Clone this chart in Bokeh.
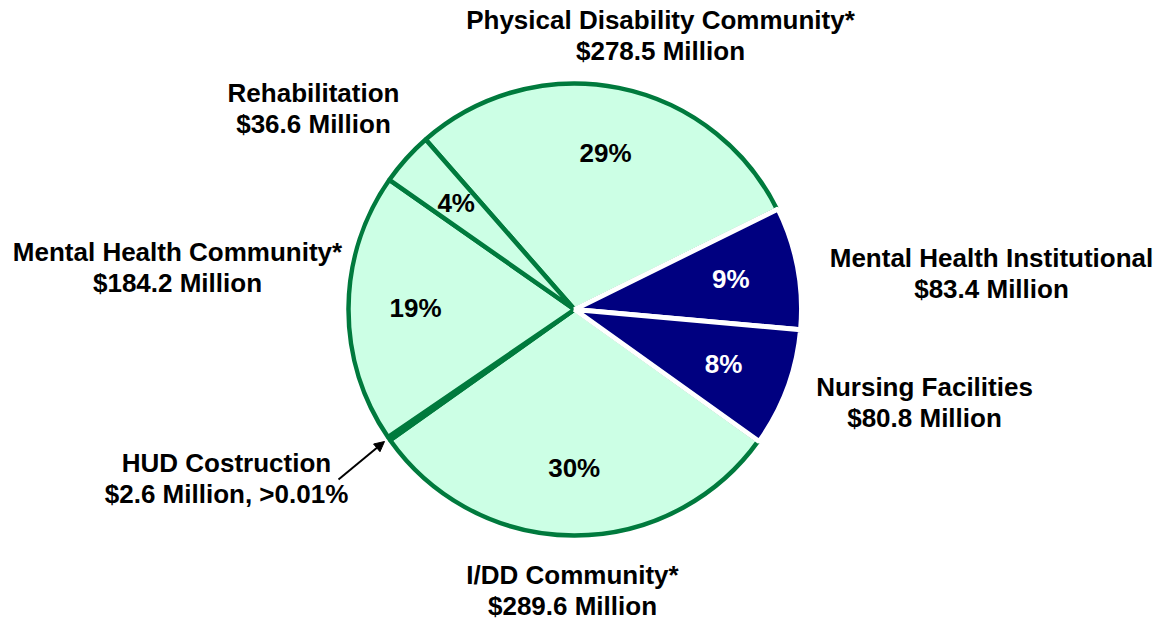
import numpy as np
from bokeh.plotting import figure
from bokeh.models import Range1d, ColumnDataSource, Arrow, NormalHead
from bokeh.core.properties import value
from bokeh.embed import file_html
from bokeh.resources import INLINE

# ---- data (clockwise order, starting with Physical Disability Community) ----
categories = ["Physical Disability Community*", "Mental Health Institutional",
              "Nursing Facilities", "I/DD Community*", "HUD Costruction",
              "Mental Health Community*", "Rehabilitation"]
amounts = [278.5, 83.4, 80.8, 289.6, 2.6, 184.2, 36.6]   # $ Million
institutional = [False, True, True, False, False, False, False]
amount_notes = ["", "", "", "", ", >0.01%", "", ""]

# ---- layout / style ----
W, H = 1167, 624
CX, CY, R = 574, H - 309, 226
A0 = 131.2                     # degrees, edge where the clockwise sweep starts
FONT = value("Liberation Sans")
FS = "26px"
MINT, GREEN, NAVY = "#CCFFE5", "#007A3D", "#000080"
TDY = 9.5                      # renderer baseline correction
# label anchors (x, baseline y of first line) in page pixels
label_pos = [(660, 29), (991, 267), (924, 396), (572, 584),
             (226, 472), (177, 261), (313, 102)]
LINE_GAP = 31

vals = np.array(amounts, dtype=float)
frac = vals / vals.sum()
cum = np.cumsum(frac)
end_ang = A0 - 360 * (cum - frac)
start_ang = A0 - 360 * cum
mid_ang = np.radians((start_ang + end_ang) / 2)

p = figure(width=W, height=H, x_range=Range1d(0, W), y_range=Range1d(0, H),
           output_backend="svg", toolbar_location=None, min_border=0)
p.axis.visible = False
p.grid.visible = False
p.outline_line_color = None
p.background_fill_color = "white"

inst = np.array(institutional)
green_src = ColumnDataSource(dict(s=start_ang[~inst], e=end_ang[~inst]))
navy_src = ColumnDataSource(dict(s=start_ang[inst], e=end_ang[inst]))

p.wedge(x=CX, y=CY, radius=R, start_angle="s", end_angle="e", start_angle_units="deg",
        end_angle_units="deg", direction="anticlock", source=green_src,
        fill_color=MINT, line_color=GREEN, line_width=4.5)
p.wedge(x=CX, y=CY, radius=R + 1, start_angle="s", end_angle="e", start_angle_units="deg",
        end_angle_units="deg", direction="anticlock", source=navy_src,
        fill_color=NAVY, line_color="white", line_width=5)

# percentage labels inside slices
RL = 159
pct = dict(x=[], y=[], t=[], c=[])
for f, m, ins in zip(frac, mid_ang, institutional):
    if f < 0.01:
        continue
    pct["x"].append(CX + RL * np.cos(m))
    pct["y"].append(CY + RL * np.sin(m) - 8.7 + TDY)
    pct["t"].append(f"{round(100 * f)}%")
    pct["c"].append("white" if ins else "black")
p.text(x="x", y="y", text="t", text_color="c", source=ColumnDataSource(pct),
       text_font=FONT, text_font_style="bold", text_font_size=FS,
       text_align="center", text_baseline="alphabetic")

# outside category labels
lab = dict(x=[], y=[], t=[])
for name, a, note, (lx, ly) in zip(categories, amounts, amount_notes, label_pos):
    lab["x"] += [lx, lx]
    lab["y"] += [H - ly + TDY, H - ly - LINE_GAP + TDY]
    lab["t"] += [name, f"${a:.1f} Million{note}"]
p.text(x="x", y="y", text="t", source=ColumnDataSource(lab),
       text_font=FONT, text_font_style="bold", text_font_size=FS, text_color="black",
       text_align="center", text_baseline="alphabetic")

# arrow pointing to the tiny HUD slice
p.add_layout(Arrow(end=NormalHead(size=10, fill_color="black", line_color="black"),
                   x_start=338, y_start=H - 479, x_end=384, y_end=H - 441,
                   line_color="black", line_width=2))

open("out.html", "w").write(file_html(p, INLINE))
